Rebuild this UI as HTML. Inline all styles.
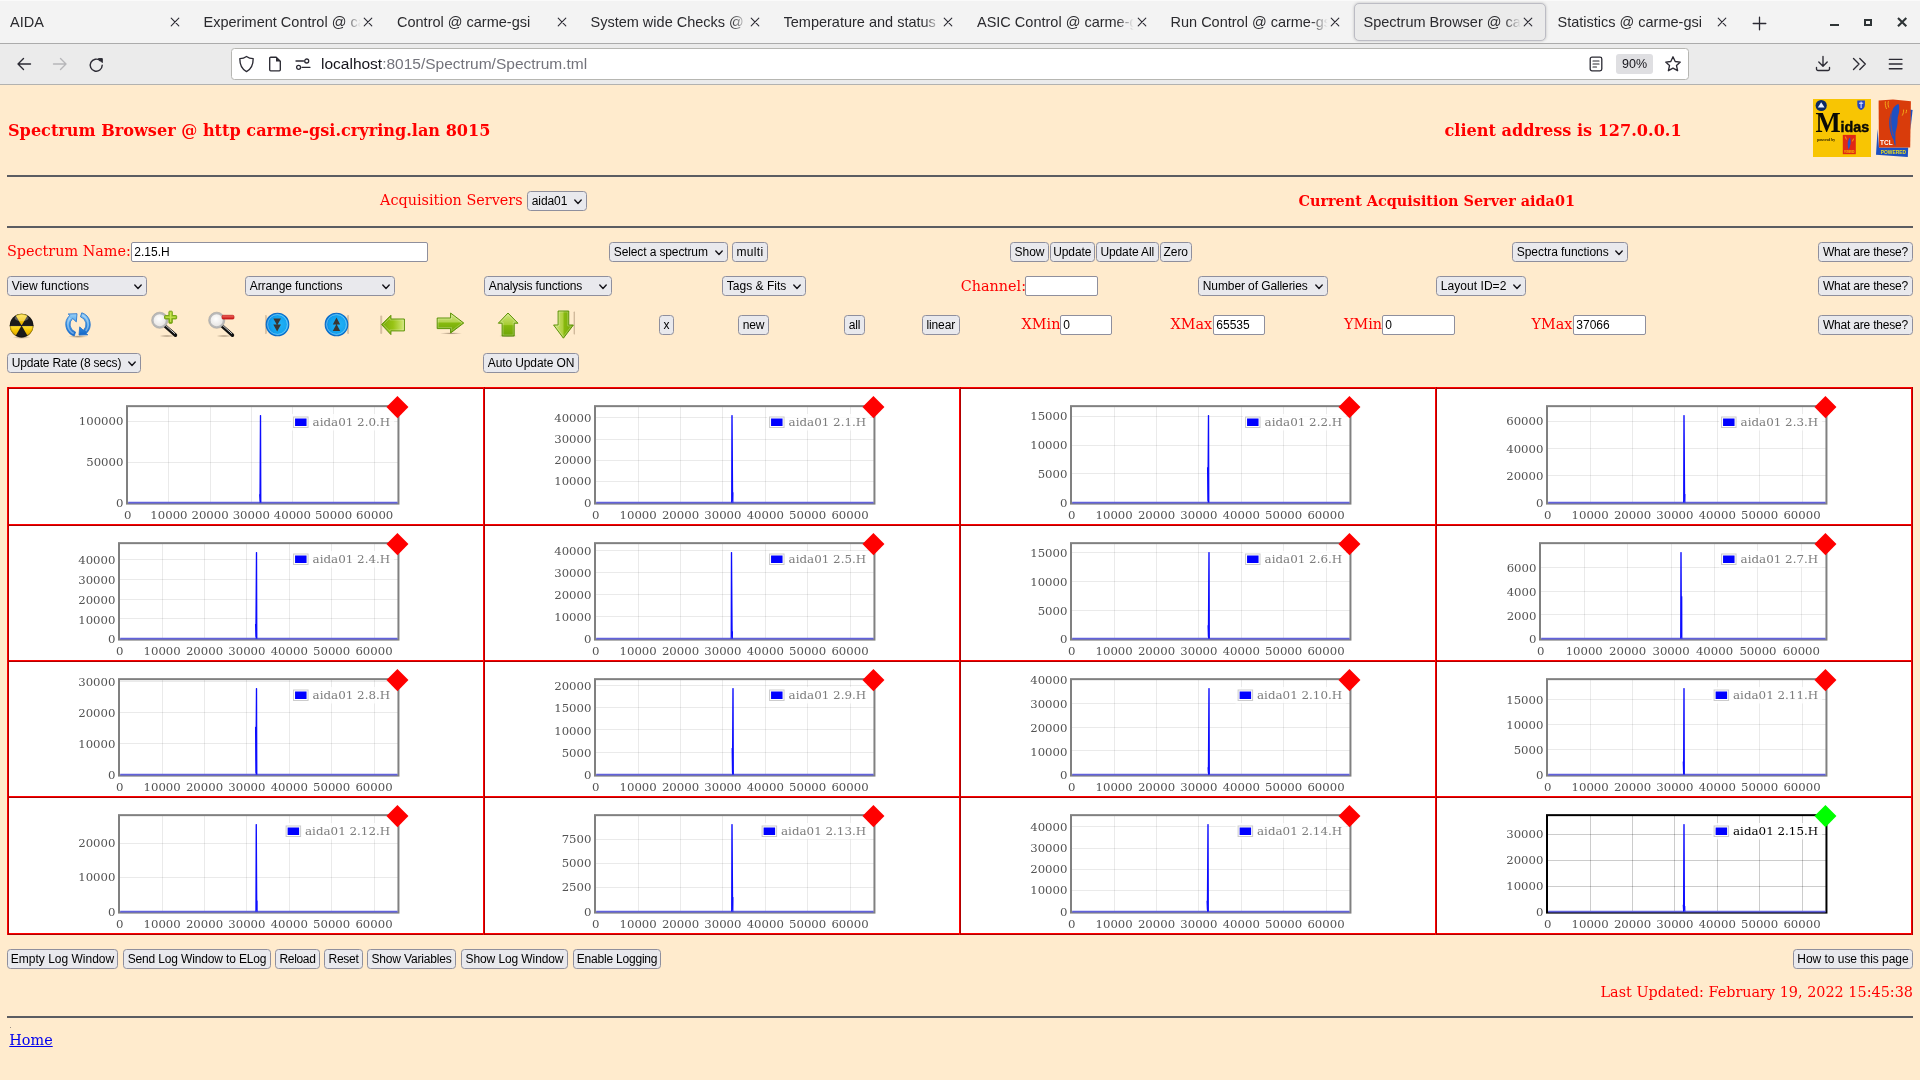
<!DOCTYPE html>
<html lang="en"><head><meta charset="utf-8"><title>Spectrum Browser @ carme-gsi</title>
<style>
*{box-sizing:border-box;margin:0;padding:0}
html,body{width:1920px;height:1080px;overflow:hidden;background:#ffebcd}
body{position:relative;font-family:"DejaVu Serif","Liberation Serif",serif;font-size:14.4px;color:#f00}
.a{position:absolute;white-space:nowrap}
.ui{font-family:"Liberation Sans","DejaVu Sans",sans-serif;color:#000}
#tabbar{left:0;top:0;width:1920px;height:43px;background:#f3f3f3;border-top:1px solid #fafafa}
#navbar{left:0;top:43px;width:1920px;height:42px;background:#ebebeb;border-top:1px solid #ababab;border-bottom:1px solid #b2b2b0}
.tab{top:.8px;height:43px;font-size:14.5px;line-height:43px;color:#2a2a2e;overflow:hidden}
.tabsel{left:1354px;top:3px;width:192px;height:38px;background:#ebebeb;border:1px solid #bcbcc4;border-radius:5px;box-shadow:0 0 3px rgba(0,0,0,.22)}
.fade{top:6px;width:26px;height:32px}
#url{left:231px;top:48px;width:1458px;height:32px;background:#fff;border:1px solid #b6b6b2;border-radius:3.5px}
.btn{height:19.5px;background:#e9e9ed;border:1px solid #8f8f9d;border-radius:3.5px;font-size:12px;letter-spacing:-.2px;line-height:17.5px;text-align:center;color:#000}
.sel{height:19.5px;background:#e9e9ed;border:1px solid #8f8f9d;border-radius:3.5px;font-size:12px;letter-spacing:-.2px;line-height:17.5px;padding-left:3.8px;color:#000}
.sel svg{position:absolute;right:4.5px;top:6.5px}
.inp{height:19.5px;background:#fff;border:1px solid #8f8f9d;border-radius:2px;font-size:12px;line-height:17.5px;padding-left:2.3px;color:#000}
.hr{left:7px;width:1906px;height:2px;background:#5b5c61}
.lbl{font-size:14.4px;line-height:18px;color:#f00}
.b{font-weight:700}
#w{position:absolute;left:0;top:0;width:1920px;height:1080px;will-change:transform}
</style></head>
<body>
<div id="w">
<div class="a" id="tabbar"></div><div class="a" id="navbar"></div>
<div class="a tabsel"></div>
<div class="a ui tab" style="left:10px;width:159px">AIDA</div>

<svg class="a" style="left:168.7px;top:15.5px" width="12" height="12" viewBox="0 0 12 12"><path d="M2.2 2.2 L9.8 9.8 M9.8 2.2 L2.2 9.8" stroke="#2b2a33" stroke-width="1.1" fill="none" stroke-linecap="round"/></svg>
<div class="a ui tab" style="left:203.5px;width:159px">Experiment Control @ carme-gsi</div>
<div class="a fade" style="left:343.5px;width:19px;background:linear-gradient(90deg,rgba(243,243,243,0),#f3f3f3 88%)"></div>
<svg class="a" style="left:362.2px;top:15.5px" width="12" height="12" viewBox="0 0 12 12"><path d="M2.2 2.2 L9.8 9.8 M9.8 2.2 L2.2 9.8" stroke="#2b2a33" stroke-width="1.1" fill="none" stroke-linecap="round"/></svg>
<div class="a ui tab" style="left:397px;width:159px">Control @ carme-gsi</div>

<svg class="a" style="left:555.7px;top:15.5px" width="12" height="12" viewBox="0 0 12 12"><path d="M2.2 2.2 L9.8 9.8 M9.8 2.2 L2.2 9.8" stroke="#2b2a33" stroke-width="1.1" fill="none" stroke-linecap="round"/></svg>
<div class="a ui tab" style="left:590.5px;width:159px">System wide Checks @ carme-gsi</div>
<div class="a fade" style="left:730.5px;width:19px;background:linear-gradient(90deg,rgba(243,243,243,0),#f3f3f3 88%)"></div>
<svg class="a" style="left:749.2px;top:15.5px" width="12" height="12" viewBox="0 0 12 12"><path d="M2.2 2.2 L9.8 9.8 M9.8 2.2 L2.2 9.8" stroke="#2b2a33" stroke-width="1.1" fill="none" stroke-linecap="round"/></svg>
<div class="a ui tab" style="left:783.5px;width:159px">Temperature and status scan @ carme-gsi</div>
<div class="a fade" style="left:923.5px;width:19px;background:linear-gradient(90deg,rgba(243,243,243,0),#f3f3f3 88%)"></div>
<svg class="a" style="left:942.2px;top:15.5px" width="12" height="12" viewBox="0 0 12 12"><path d="M2.2 2.2 L9.8 9.8 M9.8 2.2 L2.2 9.8" stroke="#2b2a33" stroke-width="1.1" fill="none" stroke-linecap="round"/></svg>
<div class="a ui tab" style="left:977px;width:159px">ASIC Control @ carme-gsi</div>
<div class="a fade" style="left:1117px;width:19px;background:linear-gradient(90deg,rgba(243,243,243,0),#f3f3f3 88%)"></div>
<svg class="a" style="left:1135.7px;top:15.5px" width="12" height="12" viewBox="0 0 12 12"><path d="M2.2 2.2 L9.8 9.8 M9.8 2.2 L2.2 9.8" stroke="#2b2a33" stroke-width="1.1" fill="none" stroke-linecap="round"/></svg>
<div class="a ui tab" style="left:1170.5px;width:159px">Run Control @ carme-gsi</div>
<div class="a fade" style="left:1310.5px;width:19px;background:linear-gradient(90deg,rgba(243,243,243,0),#f3f3f3 88%)"></div>
<svg class="a" style="left:1329.2px;top:15.5px" width="12" height="12" viewBox="0 0 12 12"><path d="M2.2 2.2 L9.8 9.8 M9.8 2.2 L2.2 9.8" stroke="#2b2a33" stroke-width="1.1" fill="none" stroke-linecap="round"/></svg>
<div class="a ui tab" style="left:1363.5px;width:159px">Spectrum Browser @ carme-gsi</div>
<div class="a fade" style="left:1503.5px;width:19px;background:linear-gradient(90deg,rgba(235,235,235,0),#ebebeb 88%)"></div>
<svg class="a" style="left:1522.2px;top:15.5px" width="12" height="12" viewBox="0 0 12 12"><path d="M2.2 2.2 L9.8 9.8 M9.8 2.2 L2.2 9.8" stroke="#2b2a33" stroke-width="1.1" fill="none" stroke-linecap="round"/></svg>
<div class="a ui tab" style="left:1557.5px;width:159px">Statistics @ carme-gsi</div>

<svg class="a" style="left:1716.2px;top:15.5px" width="12" height="12" viewBox="0 0 12 12"><path d="M2.2 2.2 L9.8 9.8 M9.8 2.2 L2.2 9.8" stroke="#2b2a33" stroke-width="1.1" fill="none" stroke-linecap="round"/></svg>
<svg class="a" style="left:1752px;top:16px" width="15" height="15" viewBox="0 0 15 15"><path d="M7.5 1.2 V13.8 M1.2 7.5 H13.8" stroke="#2b2a33" stroke-width="1.3" fill="none" stroke-linecap="round"/></svg>
<div class="a" style="left:1829.5px;top:24px;width:9px;height:2px;background:#2e3436"></div>
<div class="a" style="left:1864px;top:18.5px;width:8px;height:7px;border:2px solid #2e3436"></div>
<svg class="a" style="left:1896px;top:16px" width="12" height="12" viewBox="0 0 12 12"><path d="M2 2 L10.3 10.3 M10.3 2 L2 10.3" stroke="#2e3436" stroke-width="2.1" fill="none"/></svg>
<svg class="a" style="left:16px;top:56px" width="16" height="16" viewBox="0 0 16 16"><path d="M14.5 8 H2 M7.5 2.5 L2 8 L7.5 13.5" stroke="#2b2a33" stroke-width="1.4" fill="none" stroke-linecap="round" stroke-linejoin="round"/></svg>
<svg class="a" style="left:52px;top:56px" width="16" height="16" viewBox="0 0 16 16"><path d="M1.5 8 H14 M8.5 2.5 L14 8 L8.5 13.5" stroke="#b6b6b9" stroke-width="1.4" fill="none" stroke-linecap="round" stroke-linejoin="round"/></svg>
<svg class="a" style="left:88px;top:57px" width="17" height="16" viewBox="0 0 17 16"><path d="M14.2 8.3 A6 6 0 1 1 12.2 3.7" stroke="#2b2a33" stroke-width="1.4" fill="none" stroke-linecap="round"/><path d="M10.3 1.6 H14.3 V5.6 Z" fill="#2b2a33" stroke="#2b2a33" stroke-width="1" stroke-linejoin="round"/></svg>
<div class="a" id="url"></div>
<svg class="a" style="left:238px;top:55px" width="17" height="18" viewBox="0 0 17 18"><path d="M8.5 1.5 C6.5 3 4 3.6 1.8 3.6 C1.8 10 4 14.5 8.5 16.6 C13 14.5 15.2 10 15.2 3.6 C13 3.6 10.5 3 8.5 1.5 Z" stroke="#2b2a33" stroke-width="1.35" fill="none" stroke-linejoin="round"/></svg>
<svg class="a" style="left:268px;top:56px" width="14" height="16" viewBox="0 0 14 16"><path d="M1.7 2.2 a1 1 0 0 1 1 -1 H8.2 L12.3 5.3 V13.8 a1 1 0 0 1 -1 1 H2.7 a1 1 0 0 1 -1 -1 Z" stroke="#2b2a33" stroke-width="1.35" fill="none" stroke-linejoin="round"/><path d="M8 1.4 V5.5 H12.2 Z" fill="#2b2a33"/></svg>
<svg class="a" style="left:295px;top:57px" width="16" height="14" viewBox="0 0 16 14"><path d="M1 4 H8.5 M7 10.3 H15" stroke="#2b2a33" stroke-width="1.3" fill="none" stroke-linecap="round"/><circle cx="11.7" cy="4" r="2" stroke="#2b2a33" stroke-width="1.3" fill="none"/><circle cx="3.6" cy="10.3" r="2" stroke="#2b2a33" stroke-width="1.3" fill="none"/></svg>
<div class="a ui" style="left:321px;top:53.63px;font-size:15.5px;line-height:20px;color:#000;"><span style="color:#15141a">localhost</span><span style="color:#73737b">:8015/Spectrum/Spectrum.tml</span></div>
<svg class="a" style="left:1589px;top:56px" width="14" height="16" viewBox="0 0 14 16"><rect x="1.2" y="1.2" width="11.6" height="13.6" rx="1.8" stroke="#2b2a33" stroke-width="1.3" fill="none"/><path d="M4 5 H10 M4 8 H10 M4 11 H7.5" stroke="#2b2a33" stroke-width="1.2" fill="none" stroke-linecap="round"/></svg>
<div class="a ui" style="left:1616px;top:54px;width:37px;height:19.5px;background:#dfdfe2;border-radius:3px;font-size:12.5px;line-height:20.5px;text-align:center;color:#15141a">90%</div>
<svg class="a" style="left:1664px;top:55px" width="18" height="18" viewBox="0 0 18 18"><path d="M9 1.8 L11.2 6.5 L16.3 7.1 L12.5 10.6 L13.6 15.7 L9 13.1 L4.4 15.7 L5.5 10.6 L1.7 7.1 L6.8 6.5 Z" stroke="#2b2a33" stroke-width="1.35" fill="none" stroke-linejoin="round"/></svg>
<svg class="a" style="left:1815px;top:55px" width="16" height="17" viewBox="0 0 16 17"><path d="M8 1.5 V11 M3.8 7 L8 11.2 L12.2 7 M1.5 12.5 V14 a1.5 1.5 0 0 0 1.5 1.5 H13 a1.5 1.5 0 0 0 1.5 -1.5 V12.5" stroke="#2b2a33" stroke-width="1.35" fill="none" stroke-linecap="round" stroke-linejoin="round"/></svg>
<svg class="a" style="left:1852px;top:57px" width="15" height="14" viewBox="0 0 15 14"><path d="M1.5 1.5 L7 7 L1.5 12.5 M7.8 1.5 L13.3 7 L7.8 12.5" stroke="#2b2a33" stroke-width="1.35" fill="none" stroke-linecap="round" stroke-linejoin="round"/></svg>
<svg class="a" style="left:1888px;top:57px" width="15" height="14" viewBox="0 0 15 14"><path d="M1.3 2.3 H14 M1.3 7 H14 M1.3 11.7 H14" stroke="#2b2a33" stroke-width="1.35" fill="none" stroke-linecap="round"/></svg>
<div class="a" style="left:8px;top:121.34px;font-size:16.1px;line-height:20px;color:#f00;font-weight:700;">Spectrum Browser @ http carme-gsi.cryring.lan 8015</div>
<div class="a" style="left:1444.5px;top:121.34px;font-size:16.1px;line-height:20px;color:#f00;font-weight:700;">client address is 127.0.0.1</div>
<div class="a hr" style="top:175px"></div>
<div class="a" style="left:380px;top:189.94px;font-size:14.4px;line-height:20px;color:#f00;">Acquisition Servers</div>
<div class="a ui sel" style="left:527px;top:191px;width:60px;height:20px;line-height:18px;letter-spacing:-0.1px">aida01<svg width="8" height="6" viewBox="0 0 8 6"><path d="M0.8 1 L4 4.4 L7.2 1" fill="none" stroke="#15141a" stroke-width="1.4" stroke-linecap="round" stroke-linejoin="round"/></svg></div>
<div class="a" style="left:1298.5px;top:190.94px;font-size:14.4px;line-height:20px;color:#f00;font-weight:700;">Current Acquisition Server aida01</div>
<div class="a hr" style="top:226px"></div>
<div class="a" style="left:6.9px;top:240.94px;font-size:14.4px;line-height:20px;color:#f00;">Spectrum Name:</div>
<div class="a ui inp" style="left:131px;top:242px;width:297px;height:20px;line-height:18px">2.15.H</div>
<div class="a ui sel" style="left:609px;top:242px;width:119px;height:20px;line-height:18px;letter-spacing:-0.12px">Select a spectrum<svg width="8" height="6" viewBox="0 0 8 6"><path d="M0.8 1 L4 4.4 L7.2 1" fill="none" stroke="#15141a" stroke-width="1.4" stroke-linecap="round" stroke-linejoin="round"/></svg></div>
<div class="a ui btn" style="left:732px;top:242px;width:36px;height:20px;line-height:18px;letter-spacing:0.3px">multi</div>
<div class="a ui btn" style="left:1010px;top:242px;width:39px;height:20px;line-height:18px;letter-spacing:-0.05px">Show</div>
<div class="a ui btn" style="left:1049.5px;top:242px;width:45.5px;height:20px;line-height:18px;letter-spacing:-0.1px">Update</div>
<div class="a ui btn" style="left:1095.5px;top:242px;width:63.5px;height:20px;line-height:18px;letter-spacing:-0.1px">Update All</div>
<div class="a ui btn" style="left:1159.5px;top:242px;width:32.5px;height:20px;line-height:18px;letter-spacing:-0.1px">Zero</div>
<div class="a ui sel" style="left:1512px;top:242px;width:116px;height:20px;line-height:18px;letter-spacing:-0.05px">Spectra functions<svg width="8" height="6" viewBox="0 0 8 6"><path d="M0.8 1 L4 4.4 L7.2 1" fill="none" stroke="#15141a" stroke-width="1.4" stroke-linecap="round" stroke-linejoin="round"/></svg></div>
<div class="a ui btn" style="left:1818px;top:242px;width:95px;height:20px;line-height:18px;letter-spacing:-0.2px">What are these?</div>
<div class="a ui sel" style="left:7px;top:276px;width:140px;height:20px;line-height:18px;letter-spacing:0.01px">View functions<svg width="8" height="6" viewBox="0 0 8 6"><path d="M0.8 1 L4 4.4 L7.2 1" fill="none" stroke="#15141a" stroke-width="1.4" stroke-linecap="round" stroke-linejoin="round"/></svg></div>
<div class="a ui sel" style="left:245px;top:276px;width:150px;height:20px;line-height:18px;letter-spacing:-0.09px">Arrange functions<svg width="8" height="6" viewBox="0 0 8 6"><path d="M0.8 1 L4 4.4 L7.2 1" fill="none" stroke="#15141a" stroke-width="1.4" stroke-linecap="round" stroke-linejoin="round"/></svg></div>
<div class="a ui sel" style="left:484px;top:276px;width:128px;height:20px;line-height:18px;letter-spacing:-0.15px">Analysis functions<svg width="8" height="6" viewBox="0 0 8 6"><path d="M0.8 1 L4 4.4 L7.2 1" fill="none" stroke="#15141a" stroke-width="1.4" stroke-linecap="round" stroke-linejoin="round"/></svg></div>
<div class="a ui sel" style="left:722px;top:276px;width:84px;height:20px;line-height:18px;letter-spacing:0.02px">Tags &amp; Fits<svg width="8" height="6" viewBox="0 0 8 6"><path d="M0.8 1 L4 4.4 L7.2 1" fill="none" stroke="#15141a" stroke-width="1.4" stroke-linecap="round" stroke-linejoin="round"/></svg></div>
<div class="a" style="left:960.7px;top:275.54px;font-size:14.4px;line-height:20px;color:#f00;">Channel:</div>
<div class="a ui inp" style="left:1025px;top:276px;width:73px;height:20px;line-height:18px"></div>
<div class="a ui sel" style="left:1198px;top:276px;width:130px;height:20px;line-height:18px;letter-spacing:-0.1px">Number of Galleries<svg width="8" height="6" viewBox="0 0 8 6"><path d="M0.8 1 L4 4.4 L7.2 1" fill="none" stroke="#15141a" stroke-width="1.4" stroke-linecap="round" stroke-linejoin="round"/></svg></div>
<div class="a ui sel" style="left:1436px;top:276px;width:90px;height:20px;line-height:18px;letter-spacing:0.05px">Layout ID=2<svg width="8" height="6" viewBox="0 0 8 6"><path d="M0.8 1 L4 4.4 L7.2 1" fill="none" stroke="#15141a" stroke-width="1.4" stroke-linecap="round" stroke-linejoin="round"/></svg></div>
<div class="a ui btn" style="left:1818px;top:276px;width:95px;height:20px;line-height:18px;letter-spacing:-0.2px">What are these?</div>
<div class="a ui btn" style="left:659px;top:315px;width:15px;height:20px;line-height:18px;letter-spacing:-0.1px">x</div>
<div class="a ui btn" style="left:738px;top:315px;width:31px;height:20px;line-height:18px;letter-spacing:-0.1px">new</div>
<div class="a ui btn" style="left:844px;top:315px;width:21px;height:20px;line-height:18px;letter-spacing:-0.1px">all</div>
<div class="a ui btn" style="left:922px;top:315px;width:37.5px;height:20px;line-height:18px;letter-spacing:-0.1px">linear</div>
<div class="a" style="left:1021.6px;top:313.74px;font-size:14.4px;line-height:20px;color:#f00;">XMin</div>
<div class="a ui inp" style="left:1060px;top:315px;width:52px;height:20px;line-height:18px">0</div>
<div class="a" style="left:1170.5px;top:313.74px;font-size:14.4px;line-height:20px;color:#f00;">XMax</div>
<div class="a ui inp" style="left:1213px;top:315px;width:52px;height:20px;line-height:18px">65535</div>
<div class="a" style="left:1344px;top:313.74px;font-size:14.4px;line-height:20px;color:#f00;">YMin</div>
<div class="a ui inp" style="left:1382px;top:315px;width:73px;height:20px;line-height:18px">0</div>
<div class="a" style="left:1531.5px;top:313.74px;font-size:14.4px;line-height:20px;color:#f00;">YMax</div>
<div class="a ui inp" style="left:1573px;top:315px;width:73px;height:20px;line-height:18px">37066</div>
<div class="a ui btn" style="left:1818px;top:315px;width:95px;height:20px;line-height:18px;letter-spacing:-0.2px">What are these?</div>
<div class="a ui sel" style="left:7px;top:353px;width:134px;height:20px;line-height:18px;letter-spacing:-0.2px">Update Rate (8 secs)<svg width="8" height="6" viewBox="0 0 8 6"><path d="M0.8 1 L4 4.4 L7.2 1" fill="none" stroke="#15141a" stroke-width="1.4" stroke-linecap="round" stroke-linejoin="round"/></svg></div>
<div class="a ui btn" style="left:483px;top:353px;width:96px;height:20px;line-height:18px;letter-spacing:-0.11px">Auto Update ON</div>
<div class="a ui btn" style="left:7px;top:949px;width:111px;height:20px;line-height:18px;letter-spacing:0px">Empty Log Window</div>
<div class="a ui btn" style="left:123px;top:949px;width:148px;height:20px;line-height:18px;letter-spacing:-0.15px">Send Log Window to ELog</div>
<div class="a ui btn" style="left:275px;top:949px;width:45px;height:20px;line-height:18px;letter-spacing:-0.35px">Reload</div>
<div class="a ui btn" style="left:324px;top:949px;width:39px;height:20px;line-height:18px;letter-spacing:-0.3px">Reset</div>
<div class="a ui btn" style="left:367px;top:949px;width:89px;height:20px;line-height:18px;letter-spacing:-0.16px">Show Variables</div>
<div class="a ui btn" style="left:461px;top:949px;width:107px;height:20px;line-height:18px;letter-spacing:-0.1px">Show Log Window</div>
<div class="a ui btn" style="left:573px;top:949px;width:88px;height:20px;line-height:18px;letter-spacing:-0.2px">Enable Logging</div>
<div class="a ui btn" style="left:1793px;top:949px;width:120px;height:20px;line-height:18px;letter-spacing:-0.04px">How to use this page</div>
<div class="a" style="right:7px;top:981.94px;font-size:14.4px;line-height:20px;color:#f00;">Last Updated: February 19, 2022 15:45:38</div>
<div class="a hr" style="top:1016px"></div>
<div class="a" style="left:9.6px;top:1027px;width:1.4px;height:1px;background:#9a8f86"></div>
<div class="a" style="left:9.3px;top:1029.54px;font-size:14.4px;line-height:20px;color:#0000ee;"><span style="text-decoration:underline">Home</span></div>
<svg class="a" style="left:1813px;top:99px" width="58" height="58" viewBox="0 0 58 58"><rect width="58" height="58" fill="#f8c503"/><circle cx="8.2" cy="6.5" r="5.6" fill="#0b2a66"/><path d="M8.2 3.2 L11.6 8.6 H4.8 Z" fill="#e8f0ff"/><path d="M44.3 1.5 H51.9 V6 C51.9 9 49.5 10.4 48.1 11 C46.7 10.4 44.3 9 44.3 6 Z" fill="#2346c4"/><path d="M46 4.2 H50.2 M48.1 2.6 V9" stroke="#e8ecff" stroke-width="1"/><text x="2.6" y="32.6" font-family="'Liberation Serif','DejaVu Serif',serif" font-weight="700" font-size="29.5" fill="#0a0a06" textLength="25.2" lengthAdjust="spacingAndGlyphs">M</text><text x="27.6" y="32.6" font-family="'Liberation Sans','DejaVu Sans',sans-serif" font-weight="700" font-size="15" fill="#0a0a06" stroke="#0a0a06" stroke-width=".45" textLength="28.6" lengthAdjust="spacingAndGlyphs">idas</text><text x="4.2" y="42.2" font-family="'Liberation Serif',serif" font-weight="700" font-size="4.2" fill="#1a1400" textLength="17.8" lengthAdjust="spacingAndGlyphs">powered by</text><rect x="29.8" y="35.9" width="13" height="19.3" fill="#e02814"/><path d="M37 38.5 C34.5 41 34 46 35.6 50.5 C37.6 47 38.4 42 37 38.5 Z" fill="#2a54c8"/><path d="M32.4 37.6 L33.4 40.6 M40.6 39.6 L39.4 42.4" stroke="#f8c800" stroke-width=".8"/><text x="31.2" y="54" font-family="'Liberation Sans',sans-serif" font-weight="700" font-size="3" fill="#f8c800" textLength="10.2" lengthAdjust="spacingAndGlyphs">POWERED</text></svg>
<svg class="a" style="left:1876px;top:99px" width="37" height="59" viewBox="0 0 37 59"><path d="M1.6 30 L3 48.6 L32.2 48.6 L31.8 58 L0 55.8 Z" fill="#1c50c2"/><path d="M34 10.6 L36.6 11 L34.4 31 Z" fill="#1c50c2"/><path d="M2.6 1.4 L17 .6 L34.9 2.2 L34.2 48.4 L2.9 48.6 Z" fill="#d93c0b"/><path d="M22.4 5 C19 5.6 14.6 11.6 13.4 20 C12.6 27 14.2 35 17.6 41 C18 43 18.4 45 18.8 46.6 L19.6 46.4 C19.4 43 19.2 38 19.6 33 C21 28 22 24 21.6 19 C22.6 15 23.6 12 23.2 9 C23.4 7.4 23 6 22.4 5 Z" fill="#1f50c2"/><path d="M16.4 10 C14 17 14 27 17.4 37" stroke="#d93c0b" stroke-width=".7" fill="none" opacity=".8"/><path d="M9.4 2.4 C9 5 9.4 7.6 10.6 10 M12.4 2.2 C11.8 4.4 12 6.6 12.8 8.6 M27.6 10.6 C27.8 12.6 27.2 14.8 26.2 16.6 M30.6 10.8 C30.6 12 30.2 13.2 29.8 14.2" stroke="#f2a818" stroke-width="1" fill="none"/><text x="4" y="46" font-family="'Liberation Sans',sans-serif" font-weight="700" font-size="6.4" fill="#fff" textLength="12.6" lengthAdjust="spacingAndGlyphs">TCL</text><text x="4.8" y="54.6" font-family="'Liberation Sans',sans-serif" font-weight="700" font-size="5.8" fill="#eadc1e" textLength="25.2" lengthAdjust="spacingAndGlyphs">POWERED</text></svg>
<svg width="0" height="0" style="position:absolute"><defs>
<linearGradient id="gY" x1="0" y1="0" x2="0" y2="1"><stop offset="0" stop-color="#ffe23a"/><stop offset=".5" stop-color="#f5c400"/><stop offset="1" stop-color="#e0a800"/></linearGradient>
<radialGradient id="gB" cx=".62" cy=".5" r=".62"><stop offset="0" stop-color="#22b2f6"/><stop offset=".7" stop-color="#10a0ee"/><stop offset="1" stop-color="#0a7edc"/></radialGradient>
<linearGradient id="gR" x1="0" y1="0" x2="0" y2="1"><stop offset="0" stop-color="#9ad0f6"/><stop offset=".5" stop-color="#3a96e6"/><stop offset="1" stop-color="#1466c8"/></linearGradient>
<linearGradient id="gGh" x1="0" y1="0" x2="1" y2="0"><stop offset="0" stop-color="#78aa0a"/><stop offset=".5" stop-color="#98c414"/><stop offset="1" stop-color="#d4e878"/></linearGradient>
<linearGradient id="gGv" x1="0" y1="0" x2="0" y2="1"><stop offset="0" stop-color="#cfe47a"/><stop offset=".45" stop-color="#b4d450"/><stop offset=".5" stop-color="#86ba0e"/><stop offset="1" stop-color="#6ea408"/></linearGradient>
<linearGradient id="gGv2" x1="0" y1="0" x2="0" y2="1"><stop offset="0" stop-color="#d2e680"/><stop offset=".5" stop-color="#a6cc34"/><stop offset=".55" stop-color="#84b80c"/><stop offset="1" stop-color="#6ea408"/></linearGradient>
<linearGradient id="gGd" x1="0" y1="0" x2="1" y2="0"><stop offset="0" stop-color="#d0e47c"/><stop offset=".45" stop-color="#b0d040"/><stop offset=".55" stop-color="#86b80e"/><stop offset="1" stop-color="#74a808"/></linearGradient>
<linearGradient id="gR2" x1="0" y1="1" x2="0" y2="0"><stop offset="0" stop-color="#8cc8f4"/><stop offset=".5" stop-color="#3a96e4"/><stop offset="1" stop-color="#1466c8"/></linearGradient>
<radialGradient id="gL" cx=".45" cy=".4" r=".6"><stop offset="0" stop-color="#ffffff"/><stop offset="1" stop-color="#e4e2e0"/></radialGradient>
<linearGradient id="gP" x1="0" y1="0" x2="0" y2="1"><stop offset="0" stop-color="#b8dc3c"/><stop offset="1" stop-color="#7cac10"/></linearGradient>
<linearGradient id="gM" x1="0" y1="0" x2="0" y2="1"><stop offset="0" stop-color="#f06a60"/><stop offset="1" stop-color="#c81414"/></linearGradient>
<radialGradient id="gSh" cx=".5" cy=".5" r=".5"><stop offset="0" stop-color="rgba(60,40,20,.45)"/><stop offset="1" stop-color="rgba(60,40,20,0)"/></radialGradient>
</defs></svg>
<svg class="a" style="left:9px;top:312.5px" width="26" height="26" viewBox="0 0 26 26"><ellipse cx="12.6" cy="24.3" rx="9" ry="1.6" fill="url(#gSh)"/><circle cx="12.6" cy="12.6" r="11.8" fill="#1a1a1a"/><path d="M12.6 12.6 L18.50 2.38 A11.8 11.8 0 0 0 6.70 2.38 Z" fill="url(#gY)"/><path d="M12.6 12.6 L0.80 12.60 A11.8 11.8 0 0 0 6.70 22.82 Z" fill="url(#gY)"/><path d="M12.6 12.6 L18.50 22.82 A11.8 11.8 0 0 0 24.40 12.60 Z" fill="url(#gY)"/><path d="M0.7999999999999989 12.6 H24.4" stroke="#14142a" stroke-width="1"/><circle cx="12.6" cy="12.6" r="11.4" fill="none" stroke="rgba(0,0,0,.35)" stroke-width=".8"/><ellipse cx="12.6" cy="5" rx="7" ry="3.2" fill="rgba(255,255,255,.28)"/></svg>
<svg class="a" style="left:65.25px;top:312.2px" width="26" height="26" viewBox="0 0 26 26"><ellipse cx="13" cy="24.6" rx="10" ry="1.4" fill="url(#gSh)"/><path d="M9.23 24.00 A12.2 12.2 0 0 1 4.84 3.33 L3.2 2.0 L12.0 1.7 L11.3 9.9 L7.65 6.45 A8.0 8.0 0 0 0 10.53 20.01 Z" fill="url(#gR)" stroke="#1a6ccc" stroke-width=".8" stroke-linejoin="round"/><path d="M8.73 21.55 A10.1 10.1 0 0 1 5.26 5.91" fill="none" stroke="rgba(255,255,255,.38)" stroke-width="1.7"/><g transform="rotate(180 13 12.4)"><path d="M9.23 24.00 A12.2 12.2 0 0 1 4.84 3.33 L3.2 2.0 L12.0 1.7 L11.3 9.9 L7.65 6.45 A8.0 8.0 0 0 0 10.53 20.01 Z" fill="url(#gR2)" stroke="#1a6ccc" stroke-width=".8" stroke-linejoin="round"/><path d="M8.73 21.55 A10.1 10.1 0 0 1 5.26 5.91" fill="none" stroke="rgba(255,255,255,.38)" stroke-width="1.7"/></g></svg>
<svg class="a" style="left:150px;top:310px" width="36" height="28" viewBox="0 0 36 28"><ellipse cx="17" cy="26" rx="8" ry="1.3" fill="url(#gSh)"/><path d="M15 16 L25.4 25.2" stroke="#111" stroke-width="3.6" stroke-linecap="round"/><path d="M15.6 15.4 L24.6 23.4" stroke="#fff" stroke-width="1" stroke-linecap="round" opacity=".85"/><circle cx="9.7" cy="10.25" r="7.1" fill="url(#gL)" stroke="#b9b9b9" stroke-width="2"/><circle cx="9.7" cy="10.25" r="8.1" fill="none" stroke="#9a9a9a" stroke-width=".5"/><path d="M18.9 1.9 a.7 .7 0 0 1 .7 -.7 h2 a.7 .7 0 0 1 .7 .7 v3.65 h3.65 a.7 .7 0 0 1 .7 .7 v2 a.7 .7 0 0 1 -.7 .7 h-3.65 v3.65 a.7 .7 0 0 1 -.7 .7 h-2 a.7 .7 0 0 1 -.7 -.7 v-3.65 h-3.65 a.7 .7 0 0 1 -.7 -.7 v-2 a.7 .7 0 0 1 .7 -.7 h3.65 Z" fill="url(#gP)" stroke="#6a9a0a" stroke-width=".9"/><path d="M20 2.4 h1.2 v4.25 h4.25 v1.2 h-4.25 v4.25 h-1.2 v-4.25 h-4.25 v-1.2 h4.25 Z" fill="#d2e860" opacity=".8"/></svg>
<svg class="a" style="left:206.9px;top:310px" width="36" height="28" viewBox="0 0 36 28"><ellipse cx="17" cy="26" rx="8" ry="1.3" fill="url(#gSh)"/><path d="M15 16 L25.4 25.2" stroke="#111" stroke-width="3.6" stroke-linecap="round"/><path d="M15.6 15.4 L24.6 23.4" stroke="#fff" stroke-width="1" stroke-linecap="round" opacity=".85"/><circle cx="9.7" cy="10.25" r="7.1" fill="url(#gL)" stroke="#b9b9b9" stroke-width="2"/><circle cx="9.7" cy="10.25" r="8.1" fill="none" stroke="#9a9a9a" stroke-width=".5"/><rect x="15" y="5.3" width="12" height="3.8" rx="1.2" fill="url(#gM)" stroke="#c01818" stroke-width=".7"/></svg>
<svg class="a" style="left:265.2px;top:312px" width="25" height="25" viewBox="0 0 25 25"><rect x="-.4" y="3" width="2.4" height="19" fill="rgba(90,60,30,.22)" rx="1.2"/><circle cx="12.5" cy="12.5" r="11.3" fill="url(#gB)" stroke="#0a6ac6" stroke-width="1.1"/><circle cx="12.5" cy="12.5" r="9.9" fill="none" stroke="rgba(255,255,255,.4)" stroke-width=".9"/><path d="M8.3 6.4 H16 L12.15 13.2 Z M8.3 12.6 H16 L12.15 19.6 Z" fill="#3a3633"/></svg>
<svg class="a" style="left:324.1px;top:312px" width="25" height="25" viewBox="0 0 25 25"><rect x="23" y="3" width="2.4" height="19" fill="rgba(90,60,30,.22)" rx="1.2"/><circle cx="12.5" cy="12.5" r="11.3" fill="url(#gB)" stroke="#0a6ac6" stroke-width="1.1"/><circle cx="12.5" cy="12.5" r="9.9" fill="none" stroke="rgba(255,255,255,.4)" stroke-width=".9"/><path d="M12.5 5.6 L16.2 12.4 H8.8 Z M12.5 12 L16.2 19 H8.8 Z" fill="#3a3633"/></svg>
<svg class="a" style="left:380px;top:314px" width="26" height="22" viewBox="0 0 26 22"><rect x=".2" y="1.5" width="2" height="18.5" fill="rgba(90,60,30,.25)" rx="1"/><path d="M1.6 10.6 L10.9 1.3 V5 H24.4 V16.9 H10.9 V20.6 Z" fill="url(#gGh)" stroke="#5c9208" stroke-width="1" stroke-linejoin="round"/><path d="M3.4 10.6 L9.9 4 V6 H23.3 V15.9 H9.9 V17.4 Z" fill="none" stroke="rgba(255,255,255,.3)" stroke-width=".8"/></svg>
<svg class="a" style="left:436px;top:312.4px" width="30" height="24" viewBox="0 0 30 24"><ellipse cx="15" cy="21.4" rx="11" ry="1.2" fill="url(#gSh)"/><path d="M1.2 6 H14.6 V1 L27.75 11 L14.6 21 V16.6 H1.2 Z" fill="url(#gGv)" stroke="#5c9208" stroke-width="1" stroke-linejoin="round"/><path d="M2.2 7 H15.6 V3.2 L26 11 L15.6 18.8 V15.6 H2.2 Z" fill="none" stroke="rgba(255,255,255,.3)" stroke-width=".8"/></svg>
<svg class="a" style="left:496.8px;top:311.8px" width="23" height="26" viewBox="0 0 23 26"><ellipse cx="11" cy="24" rx="9.5" ry="1.3" fill="url(#gSh)"/><path d="M11 1 L21 11.2 H17.2 V24 H5.1 V11.2 H1.3 Z" fill="url(#gGv2)" stroke="#5c9208" stroke-width="1" stroke-linejoin="round"/><path d="M11 2.6 L18.6 10.2 H16.2 V23 H6.1 V10.2 H3.7 Z" fill="none" stroke="rgba(255,255,255,.3)" stroke-width=".8"/></svg>
<svg class="a" style="left:553px;top:310.3px" width="22" height="30" viewBox="0 0 22 30"><rect x="20.6" y="1.5" width="1.6" height="23" fill="rgba(90,60,30,.28)" rx=".8"/><path d="M5.1 1 H15.75 V15 H20.4 L10.4 28.2 L.6 15 H5.1 Z" fill="url(#gGd)" stroke="#5c9208" stroke-width="1" stroke-linejoin="round"/><path d="M6.1 2 H14.75 V16 H18.4 L10.4 26.5 L2.6 16 H6.1 Z" fill="none" stroke="rgba(255,255,255,.3)" stroke-width=".8"/></svg>
<div class="a" style="left:7px;top:387px;width:1906px;height:548px;background:#fff"></div>
<div class="a" style="left:7px;top:387px;width:1906px;height:1px;background:#ff0000"></div>
<div class="a" style="left:7px;top:388px;width:1906px;height:1px;background:#b00000"></div>
<div class="a" style="left:7px;top:524px;width:1906px;height:1px;background:#ff0000"></div>
<div class="a" style="left:7px;top:525px;width:1906px;height:1px;background:#b00000"></div>
<div class="a" style="left:7px;top:660px;width:1906px;height:1px;background:#ff0000"></div>
<div class="a" style="left:7px;top:661px;width:1906px;height:1px;background:#b00000"></div>
<div class="a" style="left:7px;top:796px;width:1906px;height:1px;background:#ff0000"></div>
<div class="a" style="left:7px;top:797px;width:1906px;height:1px;background:#b00000"></div>
<div class="a" style="left:7px;top:933px;width:1906px;height:1px;background:#ff0000"></div>
<div class="a" style="left:7px;top:934px;width:1906px;height:1px;background:#b00000"></div>
<div class="a" style="left:7px;top:387px;width:1px;height:548px;background:#ff0000"></div>
<div class="a" style="left:8px;top:387px;width:1px;height:548px;background:#b00000"></div>
<div class="a" style="left:483px;top:387px;width:1px;height:548px;background:#ff0000"></div>
<div class="a" style="left:484px;top:387px;width:1px;height:548px;background:#b00000"></div>
<div class="a" style="left:959px;top:387px;width:1px;height:548px;background:#ff0000"></div>
<div class="a" style="left:960px;top:387px;width:1px;height:548px;background:#b00000"></div>
<div class="a" style="left:1435px;top:387px;width:1px;height:548px;background:#ff0000"></div>
<div class="a" style="left:1436px;top:387px;width:1px;height:548px;background:#b00000"></div>
<div class="a" style="left:1911px;top:387px;width:1px;height:548px;background:#ff0000"></div>
<div class="a" style="left:1912px;top:387px;width:1px;height:548px;background:#b00000"></div>
<svg class="a" style="left:7px;top:387px" width="476" height="137" viewBox="0 0 476 137"><path d="M161.5 19.15 V116.6 M203.5 19.15 V116.6 M244.5 19.15 V116.6 M285.5 19.15 V116.6 M326.5 19.15 V116.6 M367.5 19.15 V116.6" stroke="#545454" stroke-opacity=".125" stroke-width="1" fill="none"/><path d="M120 75.5 H391.45 M120 34.5 H391.45" stroke="#545454" stroke-opacity=".125" stroke-width="1" fill="none"/><rect x="120" y="19.15" width="271.45" height="97.44999999999999" fill="none" stroke="#808080" stroke-width="2"/><path d="M121.20 115.6 H390.55" stroke="#6262dc" stroke-width="1.9" fill="none"/><path d="M253.10 115.60 L252.60 107.44 L252.90 113.60 L253.35 28.40 L253.65 28.40 L253.90 115.60" stroke="#0c0cff" stroke-width="1.05" fill="rgba(40,40,255,.4)" stroke-linejoin="round"/><text x="116.4" y="119.70" text-anchor="end" font-family="'DejaVu Serif','Liberation Serif',serif" font-size="11.7" fill="#545454">0</text><text x="116.4" y="79.05" text-anchor="end" font-family="'DejaVu Serif','Liberation Serif',serif" font-size="11.7" fill="#545454">50000</text><text x="116.4" y="38.40" text-anchor="end" font-family="'DejaVu Serif','Liberation Serif',serif" font-size="11.7" fill="#545454">100000</text><text x="120.80" y="132.1" text-anchor="middle" font-family="'DejaVu Serif','Liberation Serif',serif" font-size="11.7" fill="#545454">0</text><text x="161.95" y="132.1" text-anchor="middle" font-family="'DejaVu Serif','Liberation Serif',serif" font-size="11.7" fill="#545454">10000</text><text x="203.09" y="132.1" text-anchor="middle" font-family="'DejaVu Serif','Liberation Serif',serif" font-size="11.7" fill="#545454">20000</text><text x="244.24" y="132.1" text-anchor="middle" font-family="'DejaVu Serif','Liberation Serif',serif" font-size="11.7" fill="#545454">30000</text><text x="285.38" y="132.1" text-anchor="middle" font-family="'DejaVu Serif','Liberation Serif',serif" font-size="11.7" fill="#545454">40000</text><text x="326.53" y="132.1" text-anchor="middle" font-family="'DejaVu Serif','Liberation Serif',serif" font-size="11.7" fill="#545454">50000</text><text x="367.68" y="132.1" text-anchor="middle" font-family="'DejaVu Serif','Liberation Serif',serif" font-size="11.7" fill="#545454">60000</text><rect x="284.05" y="27" width="103.10" height="16.5" fill="#fff" opacity=".8"/><rect x="286.55" y="30" width="14.5" height="10.5" fill="#fff" stroke="#ccc" stroke-width="1"/><rect x="288.05" y="31.5" width="11.5" height="7.5" fill="#0000ff"/><text x="383.15" y="38.8" text-anchor="end" font-family="'DejaVu Serif','Liberation Serif',serif" font-size="11.9" fill="#7c7c7c">aida01 2.0.H</text><path d="M390.45 8.900000000000002 L401.45 20.1 L390.45 31.3 L379.45 20.1 Z" fill="#ff0000"/></svg>
<svg class="a" style="left:483px;top:387px" width="476" height="137" viewBox="0 0 476 137"><path d="M155.5 19.15 V116.6 M197.5 19.15 V116.6 M239.5 19.15 V116.6 M282.5 19.15 V116.6 M324.5 19.15 V116.6 M367.5 19.15 V116.6" stroke="#545454" stroke-opacity=".125" stroke-width="1" fill="none"/><path d="M112 94.5 H391.45 M112 73.5 H391.45 M112 52.5 H391.45 M112 30.5 H391.45" stroke="#545454" stroke-opacity=".125" stroke-width="1" fill="none"/><rect x="112" y="19.15" width="279.45" height="97.44999999999999" fill="none" stroke="#808080" stroke-width="2"/><path d="M113.20 115.6 H390.55" stroke="#6262dc" stroke-width="1.9" fill="none"/><path d="M248.60 115.60 L248.85 28.40 L249.15 28.40 L249.70 113.60 L250.00 105.49 L249.90 115.60" stroke="#0c0cff" stroke-width="1.05" fill="rgba(40,40,255,.4)" stroke-linejoin="round"/><text x="108.4" y="119.70" text-anchor="end" font-family="'DejaVu Serif','Liberation Serif',serif" font-size="11.7" fill="#545454">0</text><text x="108.4" y="98.45" text-anchor="end" font-family="'DejaVu Serif','Liberation Serif',serif" font-size="11.7" fill="#545454">10000</text><text x="108.4" y="77.20" text-anchor="end" font-family="'DejaVu Serif','Liberation Serif',serif" font-size="11.7" fill="#545454">20000</text><text x="108.4" y="55.95" text-anchor="end" font-family="'DejaVu Serif','Liberation Serif',serif" font-size="11.7" fill="#545454">30000</text><text x="108.4" y="34.70" text-anchor="end" font-family="'DejaVu Serif','Liberation Serif',serif" font-size="11.7" fill="#545454">40000</text><text x="112.80" y="132.1" text-anchor="middle" font-family="'DejaVu Serif','Liberation Serif',serif" font-size="11.7" fill="#545454">0</text><text x="155.17" y="132.1" text-anchor="middle" font-family="'DejaVu Serif','Liberation Serif',serif" font-size="11.7" fill="#545454">10000</text><text x="197.53" y="132.1" text-anchor="middle" font-family="'DejaVu Serif','Liberation Serif',serif" font-size="11.7" fill="#545454">20000</text><text x="239.90" y="132.1" text-anchor="middle" font-family="'DejaVu Serif','Liberation Serif',serif" font-size="11.7" fill="#545454">30000</text><text x="282.27" y="132.1" text-anchor="middle" font-family="'DejaVu Serif','Liberation Serif',serif" font-size="11.7" fill="#545454">40000</text><text x="324.63" y="132.1" text-anchor="middle" font-family="'DejaVu Serif','Liberation Serif',serif" font-size="11.7" fill="#545454">50000</text><text x="367.00" y="132.1" text-anchor="middle" font-family="'DejaVu Serif','Liberation Serif',serif" font-size="11.7" fill="#545454">60000</text><rect x="284.05" y="27" width="103.10" height="16.5" fill="#fff" opacity=".8"/><rect x="286.55" y="30" width="14.5" height="10.5" fill="#fff" stroke="#ccc" stroke-width="1"/><rect x="288.05" y="31.5" width="11.5" height="7.5" fill="#0000ff"/><text x="383.15" y="38.8" text-anchor="end" font-family="'DejaVu Serif','Liberation Serif',serif" font-size="11.9" fill="#7c7c7c">aida01 2.1.H</text><path d="M390.45 8.900000000000002 L401.45 20.1 L390.45 31.3 L379.45 20.1 Z" fill="#ff0000"/></svg>
<svg class="a" style="left:959px;top:387px" width="476" height="137" viewBox="0 0 476 137"><path d="M155.5 19.15 V116.6 M197.5 19.15 V116.6 M239.5 19.15 V116.6 M282.5 19.15 V116.6 M324.5 19.15 V116.6 M367.5 19.15 V116.6" stroke="#545454" stroke-opacity=".125" stroke-width="1" fill="none"/><path d="M112 86.5 H391.45 M112 58.5 H391.45 M112 29.5 H391.45" stroke="#545454" stroke-opacity=".125" stroke-width="1" fill="none"/><rect x="112" y="19.15" width="279.45" height="97.44999999999999" fill="none" stroke="#808080" stroke-width="2"/><path d="M113.20 115.6 H390.55" stroke="#6262dc" stroke-width="1.9" fill="none"/><path d="M249.10 115.60 L248.50 80.58 L248.80 113.60 L249.35 28.40 L249.65 28.40 L249.90 115.60" stroke="#0c0cff" stroke-width="1.05" fill="rgba(40,40,255,.4)" stroke-linejoin="round"/><text x="108.4" y="119.70" text-anchor="end" font-family="'DejaVu Serif','Liberation Serif',serif" font-size="11.7" fill="#545454">0</text><text x="108.4" y="90.75" text-anchor="end" font-family="'DejaVu Serif','Liberation Serif',serif" font-size="11.7" fill="#545454">5000</text><text x="108.4" y="61.80" text-anchor="end" font-family="'DejaVu Serif','Liberation Serif',serif" font-size="11.7" fill="#545454">10000</text><text x="108.4" y="32.85" text-anchor="end" font-family="'DejaVu Serif','Liberation Serif',serif" font-size="11.7" fill="#545454">15000</text><text x="112.80" y="132.1" text-anchor="middle" font-family="'DejaVu Serif','Liberation Serif',serif" font-size="11.7" fill="#545454">0</text><text x="155.17" y="132.1" text-anchor="middle" font-family="'DejaVu Serif','Liberation Serif',serif" font-size="11.7" fill="#545454">10000</text><text x="197.53" y="132.1" text-anchor="middle" font-family="'DejaVu Serif','Liberation Serif',serif" font-size="11.7" fill="#545454">20000</text><text x="239.90" y="132.1" text-anchor="middle" font-family="'DejaVu Serif','Liberation Serif',serif" font-size="11.7" fill="#545454">30000</text><text x="282.27" y="132.1" text-anchor="middle" font-family="'DejaVu Serif','Liberation Serif',serif" font-size="11.7" fill="#545454">40000</text><text x="324.63" y="132.1" text-anchor="middle" font-family="'DejaVu Serif','Liberation Serif',serif" font-size="11.7" fill="#545454">50000</text><text x="367.00" y="132.1" text-anchor="middle" font-family="'DejaVu Serif','Liberation Serif',serif" font-size="11.7" fill="#545454">60000</text><rect x="284.05" y="27" width="103.10" height="16.5" fill="#fff" opacity=".8"/><rect x="286.55" y="30" width="14.5" height="10.5" fill="#fff" stroke="#ccc" stroke-width="1"/><rect x="288.05" y="31.5" width="11.5" height="7.5" fill="#0000ff"/><text x="383.15" y="38.8" text-anchor="end" font-family="'DejaVu Serif','Liberation Serif',serif" font-size="11.9" fill="#7c7c7c">aida01 2.2.H</text><path d="M390.45 8.900000000000002 L401.45 20.1 L390.45 31.3 L379.45 20.1 Z" fill="#ff0000"/></svg>
<svg class="a" style="left:1435px;top:387px" width="476" height="137" viewBox="0 0 476 137"><path d="M155.5 19.15 V116.6 M197.5 19.15 V116.6 M239.5 19.15 V116.6 M282.5 19.15 V116.6 M324.5 19.15 V116.6 M367.5 19.15 V116.6" stroke="#545454" stroke-opacity=".125" stroke-width="1" fill="none"/><path d="M112 88.5 H391.45 M112 61.5 H391.45 M112 34.5 H391.45" stroke="#545454" stroke-opacity=".125" stroke-width="1" fill="none"/><rect x="112" y="19.15" width="279.45" height="97.44999999999999" fill="none" stroke="#808080" stroke-width="2"/><path d="M113.20 115.6 H390.55" stroke="#6262dc" stroke-width="1.9" fill="none"/><path d="M248.60 115.60 L248.85 28.40 L249.15 28.40 L249.70 113.60 L250.00 107.36 L249.90 115.60" stroke="#0c0cff" stroke-width="1.05" fill="rgba(40,40,255,.4)" stroke-linejoin="round"/><text x="108.4" y="119.70" text-anchor="end" font-family="'DejaVu Serif','Liberation Serif',serif" font-size="11.7" fill="#545454">0</text><text x="108.4" y="92.60" text-anchor="end" font-family="'DejaVu Serif','Liberation Serif',serif" font-size="11.7" fill="#545454">20000</text><text x="108.4" y="65.50" text-anchor="end" font-family="'DejaVu Serif','Liberation Serif',serif" font-size="11.7" fill="#545454">40000</text><text x="108.4" y="38.40" text-anchor="end" font-family="'DejaVu Serif','Liberation Serif',serif" font-size="11.7" fill="#545454">60000</text><text x="112.80" y="132.1" text-anchor="middle" font-family="'DejaVu Serif','Liberation Serif',serif" font-size="11.7" fill="#545454">0</text><text x="155.17" y="132.1" text-anchor="middle" font-family="'DejaVu Serif','Liberation Serif',serif" font-size="11.7" fill="#545454">10000</text><text x="197.53" y="132.1" text-anchor="middle" font-family="'DejaVu Serif','Liberation Serif',serif" font-size="11.7" fill="#545454">20000</text><text x="239.90" y="132.1" text-anchor="middle" font-family="'DejaVu Serif','Liberation Serif',serif" font-size="11.7" fill="#545454">30000</text><text x="282.27" y="132.1" text-anchor="middle" font-family="'DejaVu Serif','Liberation Serif',serif" font-size="11.7" fill="#545454">40000</text><text x="324.63" y="132.1" text-anchor="middle" font-family="'DejaVu Serif','Liberation Serif',serif" font-size="11.7" fill="#545454">50000</text><text x="367.00" y="132.1" text-anchor="middle" font-family="'DejaVu Serif','Liberation Serif',serif" font-size="11.7" fill="#545454">60000</text><rect x="284.05" y="27" width="103.10" height="16.5" fill="#fff" opacity=".8"/><rect x="286.55" y="30" width="14.5" height="10.5" fill="#fff" stroke="#ccc" stroke-width="1"/><rect x="288.05" y="31.5" width="11.5" height="7.5" fill="#0000ff"/><text x="383.15" y="38.8" text-anchor="end" font-family="'DejaVu Serif','Liberation Serif',serif" font-size="11.9" fill="#7c7c7c">aida01 2.3.H</text><path d="M390.45 8.900000000000002 L401.45 20.1 L390.45 31.3 L379.45 20.1 Z" fill="#ff0000"/></svg>
<svg class="a" style="left:7px;top:524px" width="476" height="137" viewBox="0 0 476 137"><path d="M155.5 19.15 V115.6 M197.5 19.15 V115.6 M239.5 19.15 V115.6 M282.5 19.15 V115.6 M324.5 19.15 V115.6 M367.5 19.15 V115.6" stroke="#545454" stroke-opacity=".125" stroke-width="1" fill="none"/><path d="M112 94.5 H391.45 M112 75.5 H391.45 M112 55.5 H391.45 M112 35.5 H391.45" stroke="#545454" stroke-opacity=".125" stroke-width="1" fill="none"/><rect x="112" y="19.15" width="279.45" height="96.44999999999999" fill="none" stroke="#808080" stroke-width="2"/><path d="M113.20 114.6 H390.55" stroke="#6262dc" stroke-width="1.9" fill="none"/><path d="M249.10 114.60 L248.50 100.17 L248.80 112.60 L249.35 28.40 L249.65 28.40 L249.90 114.60" stroke="#0c0cff" stroke-width="1.05" fill="rgba(40,40,255,.4)" stroke-linejoin="round"/><text x="108.4" y="119.30" text-anchor="end" font-family="'DejaVu Serif','Liberation Serif',serif" font-size="11.7" fill="#545454">0</text><text x="108.4" y="99.50" text-anchor="end" font-family="'DejaVu Serif','Liberation Serif',serif" font-size="11.7" fill="#545454">10000</text><text x="108.4" y="79.70" text-anchor="end" font-family="'DejaVu Serif','Liberation Serif',serif" font-size="11.7" fill="#545454">20000</text><text x="108.4" y="59.90" text-anchor="end" font-family="'DejaVu Serif','Liberation Serif',serif" font-size="11.7" fill="#545454">30000</text><text x="108.4" y="40.10" text-anchor="end" font-family="'DejaVu Serif','Liberation Serif',serif" font-size="11.7" fill="#545454">40000</text><text x="112.80" y="131.1" text-anchor="middle" font-family="'DejaVu Serif','Liberation Serif',serif" font-size="11.7" fill="#545454">0</text><text x="155.17" y="131.1" text-anchor="middle" font-family="'DejaVu Serif','Liberation Serif',serif" font-size="11.7" fill="#545454">10000</text><text x="197.53" y="131.1" text-anchor="middle" font-family="'DejaVu Serif','Liberation Serif',serif" font-size="11.7" fill="#545454">20000</text><text x="239.90" y="131.1" text-anchor="middle" font-family="'DejaVu Serif','Liberation Serif',serif" font-size="11.7" fill="#545454">30000</text><text x="282.27" y="131.1" text-anchor="middle" font-family="'DejaVu Serif','Liberation Serif',serif" font-size="11.7" fill="#545454">40000</text><text x="324.63" y="131.1" text-anchor="middle" font-family="'DejaVu Serif','Liberation Serif',serif" font-size="11.7" fill="#545454">50000</text><text x="367.00" y="131.1" text-anchor="middle" font-family="'DejaVu Serif','Liberation Serif',serif" font-size="11.7" fill="#545454">60000</text><rect x="284.05" y="27" width="103.10" height="16.5" fill="#fff" opacity=".8"/><rect x="286.55" y="30" width="14.5" height="10.5" fill="#fff" stroke="#ccc" stroke-width="1"/><rect x="288.05" y="31.5" width="11.5" height="7.5" fill="#0000ff"/><text x="383.15" y="38.8" text-anchor="end" font-family="'DejaVu Serif','Liberation Serif',serif" font-size="11.9" fill="#7c7c7c">aida01 2.4.H</text><path d="M390.45 8.900000000000002 L401.45 20.1 L390.45 31.3 L379.45 20.1 Z" fill="#ff0000"/></svg>
<svg class="a" style="left:483px;top:524px" width="476" height="137" viewBox="0 0 476 137"><path d="M155.5 19.15 V115.6 M197.5 19.15 V115.6 M239.5 19.15 V115.6 M282.5 19.15 V115.6 M324.5 19.15 V115.6 M367.5 19.15 V115.6" stroke="#545454" stroke-opacity=".125" stroke-width="1" fill="none"/><path d="M112 92.5 H391.45 M112 70.5 H391.45 M112 48.5 H391.45 M112 26.5 H391.45" stroke="#545454" stroke-opacity=".125" stroke-width="1" fill="none"/><rect x="112" y="19.15" width="279.45" height="96.44999999999999" fill="none" stroke="#808080" stroke-width="2"/><path d="M113.20 114.6 H390.55" stroke="#6262dc" stroke-width="1.9" fill="none"/><path d="M248.10 114.60 L248.35 28.40 L248.65 28.40 L249.20 112.60 L249.50 107.63 L249.40 114.60" stroke="#0c0cff" stroke-width="1.05" fill="rgba(40,40,255,.4)" stroke-linejoin="round"/><text x="108.4" y="119.30" text-anchor="end" font-family="'DejaVu Serif','Liberation Serif',serif" font-size="11.7" fill="#545454">0</text><text x="108.4" y="97.20" text-anchor="end" font-family="'DejaVu Serif','Liberation Serif',serif" font-size="11.7" fill="#545454">10000</text><text x="108.4" y="75.10" text-anchor="end" font-family="'DejaVu Serif','Liberation Serif',serif" font-size="11.7" fill="#545454">20000</text><text x="108.4" y="53.00" text-anchor="end" font-family="'DejaVu Serif','Liberation Serif',serif" font-size="11.7" fill="#545454">30000</text><text x="108.4" y="30.90" text-anchor="end" font-family="'DejaVu Serif','Liberation Serif',serif" font-size="11.7" fill="#545454">40000</text><text x="112.80" y="131.1" text-anchor="middle" font-family="'DejaVu Serif','Liberation Serif',serif" font-size="11.7" fill="#545454">0</text><text x="155.17" y="131.1" text-anchor="middle" font-family="'DejaVu Serif','Liberation Serif',serif" font-size="11.7" fill="#545454">10000</text><text x="197.53" y="131.1" text-anchor="middle" font-family="'DejaVu Serif','Liberation Serif',serif" font-size="11.7" fill="#545454">20000</text><text x="239.90" y="131.1" text-anchor="middle" font-family="'DejaVu Serif','Liberation Serif',serif" font-size="11.7" fill="#545454">30000</text><text x="282.27" y="131.1" text-anchor="middle" font-family="'DejaVu Serif','Liberation Serif',serif" font-size="11.7" fill="#545454">40000</text><text x="324.63" y="131.1" text-anchor="middle" font-family="'DejaVu Serif','Liberation Serif',serif" font-size="11.7" fill="#545454">50000</text><text x="367.00" y="131.1" text-anchor="middle" font-family="'DejaVu Serif','Liberation Serif',serif" font-size="11.7" fill="#545454">60000</text><rect x="284.05" y="27" width="103.10" height="16.5" fill="#fff" opacity=".8"/><rect x="286.55" y="30" width="14.5" height="10.5" fill="#fff" stroke="#ccc" stroke-width="1"/><rect x="288.05" y="31.5" width="11.5" height="7.5" fill="#0000ff"/><text x="383.15" y="38.8" text-anchor="end" font-family="'DejaVu Serif','Liberation Serif',serif" font-size="11.9" fill="#7c7c7c">aida01 2.5.H</text><path d="M390.45 8.900000000000002 L401.45 20.1 L390.45 31.3 L379.45 20.1 Z" fill="#ff0000"/></svg>
<svg class="a" style="left:959px;top:524px" width="476" height="137" viewBox="0 0 476 137"><path d="M155.5 19.15 V115.6 M197.5 19.15 V115.6 M239.5 19.15 V115.6 M282.5 19.15 V115.6 M324.5 19.15 V115.6 M367.5 19.15 V115.6" stroke="#545454" stroke-opacity=".125" stroke-width="1" fill="none"/><path d="M112 86.5 H391.45 M112 57.5 H391.45 M112 28.5 H391.45" stroke="#545454" stroke-opacity=".125" stroke-width="1" fill="none"/><rect x="112" y="19.15" width="279.45" height="96.44999999999999" fill="none" stroke="#808080" stroke-width="2"/><path d="M113.20 114.6 H390.55" stroke="#6262dc" stroke-width="1.9" fill="none"/><path d="M249.60 114.60 L249.00 101.50 L249.30 112.60 L249.85 28.40 L250.15 28.40 L250.40 114.60" stroke="#0c0cff" stroke-width="1.05" fill="rgba(40,40,255,.4)" stroke-linejoin="round"/><text x="108.4" y="119.30" text-anchor="end" font-family="'DejaVu Serif','Liberation Serif',serif" font-size="11.7" fill="#545454">0</text><text x="108.4" y="90.60" text-anchor="end" font-family="'DejaVu Serif','Liberation Serif',serif" font-size="11.7" fill="#545454">5000</text><text x="108.4" y="61.90" text-anchor="end" font-family="'DejaVu Serif','Liberation Serif',serif" font-size="11.7" fill="#545454">10000</text><text x="108.4" y="33.20" text-anchor="end" font-family="'DejaVu Serif','Liberation Serif',serif" font-size="11.7" fill="#545454">15000</text><text x="112.80" y="131.1" text-anchor="middle" font-family="'DejaVu Serif','Liberation Serif',serif" font-size="11.7" fill="#545454">0</text><text x="155.17" y="131.1" text-anchor="middle" font-family="'DejaVu Serif','Liberation Serif',serif" font-size="11.7" fill="#545454">10000</text><text x="197.53" y="131.1" text-anchor="middle" font-family="'DejaVu Serif','Liberation Serif',serif" font-size="11.7" fill="#545454">20000</text><text x="239.90" y="131.1" text-anchor="middle" font-family="'DejaVu Serif','Liberation Serif',serif" font-size="11.7" fill="#545454">30000</text><text x="282.27" y="131.1" text-anchor="middle" font-family="'DejaVu Serif','Liberation Serif',serif" font-size="11.7" fill="#545454">40000</text><text x="324.63" y="131.1" text-anchor="middle" font-family="'DejaVu Serif','Liberation Serif',serif" font-size="11.7" fill="#545454">50000</text><text x="367.00" y="131.1" text-anchor="middle" font-family="'DejaVu Serif','Liberation Serif',serif" font-size="11.7" fill="#545454">60000</text><rect x="284.05" y="27" width="103.10" height="16.5" fill="#fff" opacity=".8"/><rect x="286.55" y="30" width="14.5" height="10.5" fill="#fff" stroke="#ccc" stroke-width="1"/><rect x="288.05" y="31.5" width="11.5" height="7.5" fill="#0000ff"/><text x="383.15" y="38.8" text-anchor="end" font-family="'DejaVu Serif','Liberation Serif',serif" font-size="11.9" fill="#7c7c7c">aida01 2.6.H</text><path d="M390.45 8.900000000000002 L401.45 20.1 L390.45 31.3 L379.45 20.1 Z" fill="#ff0000"/></svg>
<svg class="a" style="left:1435px;top:524px" width="476" height="137" viewBox="0 0 476 137"><path d="M149.5 19.15 V115.6 M192.5 19.15 V115.6 M236.5 19.15 V115.6 M279.5 19.15 V115.6 M322.5 19.15 V115.6 M366.5 19.15 V115.6" stroke="#545454" stroke-opacity=".125" stroke-width="1" fill="none"/><path d="M105 90.5 H391.45 M105 67.5 H391.45 M105 43.5 H391.45" stroke="#545454" stroke-opacity=".125" stroke-width="1" fill="none"/><rect x="105" y="19.15" width="286.45" height="96.44999999999999" fill="none" stroke="#808080" stroke-width="2"/><path d="M106.20 114.6 H390.55" stroke="#6262dc" stroke-width="1.9" fill="none"/><path d="M245.60 114.60 L245.85 28.40 L246.15 28.40 L246.50 112.60 L246.80 72.46 L246.90 114.60" stroke="#0c0cff" stroke-width="1.05" fill="rgba(40,40,255,.4)" stroke-linejoin="round"/><text x="101.4" y="119.30" text-anchor="end" font-family="'DejaVu Serif','Liberation Serif',serif" font-size="11.7" fill="#545454">0</text><text x="101.4" y="95.50" text-anchor="end" font-family="'DejaVu Serif','Liberation Serif',serif" font-size="11.7" fill="#545454">2000</text><text x="101.4" y="71.70" text-anchor="end" font-family="'DejaVu Serif','Liberation Serif',serif" font-size="11.7" fill="#545454">4000</text><text x="101.4" y="47.90" text-anchor="end" font-family="'DejaVu Serif','Liberation Serif',serif" font-size="11.7" fill="#545454">6000</text><text x="105.80" y="131.1" text-anchor="middle" font-family="'DejaVu Serif','Liberation Serif',serif" font-size="11.7" fill="#545454">0</text><text x="149.23" y="131.1" text-anchor="middle" font-family="'DejaVu Serif','Liberation Serif',serif" font-size="11.7" fill="#545454">10000</text><text x="192.67" y="131.1" text-anchor="middle" font-family="'DejaVu Serif','Liberation Serif',serif" font-size="11.7" fill="#545454">20000</text><text x="236.10" y="131.1" text-anchor="middle" font-family="'DejaVu Serif','Liberation Serif',serif" font-size="11.7" fill="#545454">30000</text><text x="279.54" y="131.1" text-anchor="middle" font-family="'DejaVu Serif','Liberation Serif',serif" font-size="11.7" fill="#545454">40000</text><text x="322.97" y="131.1" text-anchor="middle" font-family="'DejaVu Serif','Liberation Serif',serif" font-size="11.7" fill="#545454">50000</text><text x="366.41" y="131.1" text-anchor="middle" font-family="'DejaVu Serif','Liberation Serif',serif" font-size="11.7" fill="#545454">60000</text><rect x="284.05" y="27" width="103.10" height="16.5" fill="#fff" opacity=".8"/><rect x="286.55" y="30" width="14.5" height="10.5" fill="#fff" stroke="#ccc" stroke-width="1"/><rect x="288.05" y="31.5" width="11.5" height="7.5" fill="#0000ff"/><text x="383.15" y="38.8" text-anchor="end" font-family="'DejaVu Serif','Liberation Serif',serif" font-size="11.9" fill="#7c7c7c">aida01 2.7.H</text><path d="M390.45 8.900000000000002 L401.45 20.1 L390.45 31.3 L379.45 20.1 Z" fill="#ff0000"/></svg>
<svg class="a" style="left:7px;top:660px" width="476" height="137" viewBox="0 0 476 137"><path d="M155.5 19.15 V115.6 M197.5 19.15 V115.6 M239.5 19.15 V115.6 M282.5 19.15 V115.6 M324.5 19.15 V115.6 M367.5 19.15 V115.6" stroke="#545454" stroke-opacity=".125" stroke-width="1" fill="none"/><path d="M112 83.5 H391.45 M112 52.5 H391.45 M112 21.5 H391.45" stroke="#545454" stroke-opacity=".125" stroke-width="1" fill="none"/><rect x="112" y="19.15" width="279.45" height="96.44999999999999" fill="none" stroke="#808080" stroke-width="2"/><path d="M113.20 114.6 H390.55" stroke="#6262dc" stroke-width="1.9" fill="none"/><path d="M249.10 114.60 L248.50 67.21 L248.80 112.60 L249.35 28.40 L249.65 28.40 L249.90 114.60" stroke="#0c0cff" stroke-width="1.05" fill="rgba(40,40,255,.4)" stroke-linejoin="round"/><text x="108.4" y="119.30" text-anchor="end" font-family="'DejaVu Serif','Liberation Serif',serif" font-size="11.7" fill="#545454">0</text><text x="108.4" y="88.20" text-anchor="end" font-family="'DejaVu Serif','Liberation Serif',serif" font-size="11.7" fill="#545454">10000</text><text x="108.4" y="57.10" text-anchor="end" font-family="'DejaVu Serif','Liberation Serif',serif" font-size="11.7" fill="#545454">20000</text><text x="108.4" y="26.00" text-anchor="end" font-family="'DejaVu Serif','Liberation Serif',serif" font-size="11.7" fill="#545454">30000</text><text x="112.80" y="131.1" text-anchor="middle" font-family="'DejaVu Serif','Liberation Serif',serif" font-size="11.7" fill="#545454">0</text><text x="155.17" y="131.1" text-anchor="middle" font-family="'DejaVu Serif','Liberation Serif',serif" font-size="11.7" fill="#545454">10000</text><text x="197.53" y="131.1" text-anchor="middle" font-family="'DejaVu Serif','Liberation Serif',serif" font-size="11.7" fill="#545454">20000</text><text x="239.90" y="131.1" text-anchor="middle" font-family="'DejaVu Serif','Liberation Serif',serif" font-size="11.7" fill="#545454">30000</text><text x="282.27" y="131.1" text-anchor="middle" font-family="'DejaVu Serif','Liberation Serif',serif" font-size="11.7" fill="#545454">40000</text><text x="324.63" y="131.1" text-anchor="middle" font-family="'DejaVu Serif','Liberation Serif',serif" font-size="11.7" fill="#545454">50000</text><text x="367.00" y="131.1" text-anchor="middle" font-family="'DejaVu Serif','Liberation Serif',serif" font-size="11.7" fill="#545454">60000</text><rect x="284.05" y="27" width="103.10" height="16.5" fill="#fff" opacity=".8"/><rect x="286.55" y="30" width="14.5" height="10.5" fill="#fff" stroke="#ccc" stroke-width="1"/><rect x="288.05" y="31.5" width="11.5" height="7.5" fill="#0000ff"/><text x="383.15" y="38.8" text-anchor="end" font-family="'DejaVu Serif','Liberation Serif',serif" font-size="11.9" fill="#7c7c7c">aida01 2.8.H</text><path d="M390.45 8.900000000000002 L401.45 20.1 L390.45 31.3 L379.45 20.1 Z" fill="#ff0000"/></svg>
<svg class="a" style="left:483px;top:660px" width="476" height="137" viewBox="0 0 476 137"><path d="M155.5 19.15 V115.6 M197.5 19.15 V115.6 M239.5 19.15 V115.6 M282.5 19.15 V115.6 M324.5 19.15 V115.6 M367.5 19.15 V115.6" stroke="#545454" stroke-opacity=".125" stroke-width="1" fill="none"/><path d="M112 92.5 H391.45 M112 69.5 H391.45 M112 47.5 H391.45 M112 25.5 H391.45" stroke="#545454" stroke-opacity=".125" stroke-width="1" fill="none"/><rect x="112" y="19.15" width="279.45" height="96.44999999999999" fill="none" stroke="#808080" stroke-width="2"/><path d="M113.20 114.6 H390.55" stroke="#6262dc" stroke-width="1.9" fill="none"/><path d="M249.60 114.60 L249.10 88.27 L249.40 112.60 L249.85 28.40 L250.15 28.40 L250.40 114.60" stroke="#0c0cff" stroke-width="1.05" fill="rgba(40,40,255,.4)" stroke-linejoin="round"/><text x="108.4" y="119.30" text-anchor="end" font-family="'DejaVu Serif','Liberation Serif',serif" font-size="11.7" fill="#545454">0</text><text x="108.4" y="96.90" text-anchor="end" font-family="'DejaVu Serif','Liberation Serif',serif" font-size="11.7" fill="#545454">5000</text><text x="108.4" y="74.50" text-anchor="end" font-family="'DejaVu Serif','Liberation Serif',serif" font-size="11.7" fill="#545454">10000</text><text x="108.4" y="52.10" text-anchor="end" font-family="'DejaVu Serif','Liberation Serif',serif" font-size="11.7" fill="#545454">15000</text><text x="108.4" y="29.70" text-anchor="end" font-family="'DejaVu Serif','Liberation Serif',serif" font-size="11.7" fill="#545454">20000</text><text x="112.80" y="131.1" text-anchor="middle" font-family="'DejaVu Serif','Liberation Serif',serif" font-size="11.7" fill="#545454">0</text><text x="155.17" y="131.1" text-anchor="middle" font-family="'DejaVu Serif','Liberation Serif',serif" font-size="11.7" fill="#545454">10000</text><text x="197.53" y="131.1" text-anchor="middle" font-family="'DejaVu Serif','Liberation Serif',serif" font-size="11.7" fill="#545454">20000</text><text x="239.90" y="131.1" text-anchor="middle" font-family="'DejaVu Serif','Liberation Serif',serif" font-size="11.7" fill="#545454">30000</text><text x="282.27" y="131.1" text-anchor="middle" font-family="'DejaVu Serif','Liberation Serif',serif" font-size="11.7" fill="#545454">40000</text><text x="324.63" y="131.1" text-anchor="middle" font-family="'DejaVu Serif','Liberation Serif',serif" font-size="11.7" fill="#545454">50000</text><text x="367.00" y="131.1" text-anchor="middle" font-family="'DejaVu Serif','Liberation Serif',serif" font-size="11.7" fill="#545454">60000</text><rect x="284.05" y="27" width="103.10" height="16.5" fill="#fff" opacity=".8"/><rect x="286.55" y="30" width="14.5" height="10.5" fill="#fff" stroke="#ccc" stroke-width="1"/><rect x="288.05" y="31.5" width="11.5" height="7.5" fill="#0000ff"/><text x="383.15" y="38.8" text-anchor="end" font-family="'DejaVu Serif','Liberation Serif',serif" font-size="11.9" fill="#7c7c7c">aida01 2.9.H</text><path d="M390.45 8.900000000000002 L401.45 20.1 L390.45 31.3 L379.45 20.1 Z" fill="#ff0000"/></svg>
<svg class="a" style="left:959px;top:660px" width="476" height="137" viewBox="0 0 476 137"><path d="M155.5 19.15 V115.6 M197.5 19.15 V115.6 M239.5 19.15 V115.6 M282.5 19.15 V115.6 M324.5 19.15 V115.6 M367.5 19.15 V115.6" stroke="#545454" stroke-opacity=".125" stroke-width="1" fill="none"/><path d="M112 90.5 H391.45 M112 67.5 H391.45 M112 43.5 H391.45 M112 19.5 H391.45" stroke="#545454" stroke-opacity=".125" stroke-width="1" fill="none"/><rect x="112" y="19.15" width="279.45" height="96.44999999999999" fill="none" stroke="#808080" stroke-width="2"/><path d="M113.20 114.6 H390.55" stroke="#6262dc" stroke-width="1.9" fill="none"/><path d="M249.60 114.60 L249.00 107.58 L249.30 112.60 L249.85 28.40 L250.15 28.40 L250.40 114.60" stroke="#0c0cff" stroke-width="1.05" fill="rgba(40,40,255,.4)" stroke-linejoin="round"/><text x="108.4" y="119.30" text-anchor="end" font-family="'DejaVu Serif','Liberation Serif',serif" font-size="11.7" fill="#545454">0</text><text x="108.4" y="95.58" text-anchor="end" font-family="'DejaVu Serif','Liberation Serif',serif" font-size="11.7" fill="#545454">10000</text><text x="108.4" y="71.86" text-anchor="end" font-family="'DejaVu Serif','Liberation Serif',serif" font-size="11.7" fill="#545454">20000</text><text x="108.4" y="48.14" text-anchor="end" font-family="'DejaVu Serif','Liberation Serif',serif" font-size="11.7" fill="#545454">30000</text><text x="108.4" y="24.42" text-anchor="end" font-family="'DejaVu Serif','Liberation Serif',serif" font-size="11.7" fill="#545454">40000</text><text x="112.80" y="131.1" text-anchor="middle" font-family="'DejaVu Serif','Liberation Serif',serif" font-size="11.7" fill="#545454">0</text><text x="155.17" y="131.1" text-anchor="middle" font-family="'DejaVu Serif','Liberation Serif',serif" font-size="11.7" fill="#545454">10000</text><text x="197.53" y="131.1" text-anchor="middle" font-family="'DejaVu Serif','Liberation Serif',serif" font-size="11.7" fill="#545454">20000</text><text x="239.90" y="131.1" text-anchor="middle" font-family="'DejaVu Serif','Liberation Serif',serif" font-size="11.7" fill="#545454">30000</text><text x="282.27" y="131.1" text-anchor="middle" font-family="'DejaVu Serif','Liberation Serif',serif" font-size="11.7" fill="#545454">40000</text><text x="324.63" y="131.1" text-anchor="middle" font-family="'DejaVu Serif','Liberation Serif',serif" font-size="11.7" fill="#545454">50000</text><text x="367.00" y="131.1" text-anchor="middle" font-family="'DejaVu Serif','Liberation Serif',serif" font-size="11.7" fill="#545454">60000</text><rect x="276.61" y="27" width="110.54" height="16.5" fill="#fff" opacity=".8"/><rect x="279.11" y="30" width="14.5" height="10.5" fill="#fff" stroke="#ccc" stroke-width="1"/><rect x="280.61" y="31.5" width="11.5" height="7.5" fill="#0000ff"/><text x="383.15" y="38.8" text-anchor="end" font-family="'DejaVu Serif','Liberation Serif',serif" font-size="11.9" fill="#7c7c7c">aida01 2.10.H</text><path d="M390.45 8.900000000000002 L401.45 20.1 L390.45 31.3 L379.45 20.1 Z" fill="#ff0000"/></svg>
<svg class="a" style="left:1435px;top:660px" width="476" height="137" viewBox="0 0 476 137"><path d="M155.5 19.15 V115.6 M197.5 19.15 V115.6 M239.5 19.15 V115.6 M282.5 19.15 V115.6 M324.5 19.15 V115.6 M367.5 19.15 V115.6" stroke="#545454" stroke-opacity=".125" stroke-width="1" fill="none"/><path d="M112 89.5 H391.45 M112 64.5 H391.45 M112 39.5 H391.45" stroke="#545454" stroke-opacity=".125" stroke-width="1" fill="none"/><rect x="112" y="19.15" width="279.45" height="96.44999999999999" fill="none" stroke="#808080" stroke-width="2"/><path d="M113.20 114.6 H390.55" stroke="#6262dc" stroke-width="1.9" fill="none"/><path d="M248.60 114.60 L248.20 101.73 L248.50 112.60 L248.85 28.40 L249.15 28.40 L249.40 114.60" stroke="#0c0cff" stroke-width="1.05" fill="rgba(40,40,255,.4)" stroke-linejoin="round"/><text x="108.4" y="119.30" text-anchor="end" font-family="'DejaVu Serif','Liberation Serif',serif" font-size="11.7" fill="#545454">0</text><text x="108.4" y="94.35" text-anchor="end" font-family="'DejaVu Serif','Liberation Serif',serif" font-size="11.7" fill="#545454">5000</text><text x="108.4" y="69.40" text-anchor="end" font-family="'DejaVu Serif','Liberation Serif',serif" font-size="11.7" fill="#545454">10000</text><text x="108.4" y="44.45" text-anchor="end" font-family="'DejaVu Serif','Liberation Serif',serif" font-size="11.7" fill="#545454">15000</text><text x="112.80" y="131.1" text-anchor="middle" font-family="'DejaVu Serif','Liberation Serif',serif" font-size="11.7" fill="#545454">0</text><text x="155.17" y="131.1" text-anchor="middle" font-family="'DejaVu Serif','Liberation Serif',serif" font-size="11.7" fill="#545454">10000</text><text x="197.53" y="131.1" text-anchor="middle" font-family="'DejaVu Serif','Liberation Serif',serif" font-size="11.7" fill="#545454">20000</text><text x="239.90" y="131.1" text-anchor="middle" font-family="'DejaVu Serif','Liberation Serif',serif" font-size="11.7" fill="#545454">30000</text><text x="282.27" y="131.1" text-anchor="middle" font-family="'DejaVu Serif','Liberation Serif',serif" font-size="11.7" fill="#545454">40000</text><text x="324.63" y="131.1" text-anchor="middle" font-family="'DejaVu Serif','Liberation Serif',serif" font-size="11.7" fill="#545454">50000</text><text x="367.00" y="131.1" text-anchor="middle" font-family="'DejaVu Serif','Liberation Serif',serif" font-size="11.7" fill="#545454">60000</text><rect x="276.61" y="27" width="110.54" height="16.5" fill="#fff" opacity=".8"/><rect x="279.11" y="30" width="14.5" height="10.5" fill="#fff" stroke="#ccc" stroke-width="1"/><rect x="280.61" y="31.5" width="11.5" height="7.5" fill="#0000ff"/><text x="383.15" y="38.8" text-anchor="end" font-family="'DejaVu Serif','Liberation Serif',serif" font-size="11.9" fill="#7c7c7c">aida01 2.11.H</text><path d="M390.45 8.900000000000002 L401.45 20.1 L390.45 31.3 L379.45 20.1 Z" fill="#ff0000"/></svg>
<svg class="a" style="left:7px;top:796px" width="476" height="137" viewBox="0 0 476 137"><path d="M155.5 19.15 V116.6 M197.5 19.15 V116.6 M239.5 19.15 V116.6 M282.5 19.15 V116.6 M324.5 19.15 V116.6 M367.5 19.15 V116.6" stroke="#545454" stroke-opacity=".125" stroke-width="1" fill="none"/><path d="M112 81.5 H391.45 M112 47.5 H391.45" stroke="#545454" stroke-opacity=".125" stroke-width="1" fill="none"/><rect x="112" y="19.15" width="279.45" height="97.44999999999999" fill="none" stroke="#808080" stroke-width="2"/><path d="M113.20 115.6 H390.55" stroke="#6262dc" stroke-width="1.9" fill="none"/><path d="M248.85 115.60 L249.10 28.40 L249.40 28.40 L249.85 113.60 L250.15 104.89 L250.15 115.60" stroke="#0c0cff" stroke-width="1.05" fill="rgba(40,40,255,.4)" stroke-linejoin="round"/><text x="108.4" y="119.70" text-anchor="end" font-family="'DejaVu Serif','Liberation Serif',serif" font-size="11.7" fill="#545454">0</text><text x="108.4" y="85.30" text-anchor="end" font-family="'DejaVu Serif','Liberation Serif',serif" font-size="11.7" fill="#545454">10000</text><text x="108.4" y="50.90" text-anchor="end" font-family="'DejaVu Serif','Liberation Serif',serif" font-size="11.7" fill="#545454">20000</text><text x="112.80" y="132.1" text-anchor="middle" font-family="'DejaVu Serif','Liberation Serif',serif" font-size="11.7" fill="#545454">0</text><text x="155.17" y="132.1" text-anchor="middle" font-family="'DejaVu Serif','Liberation Serif',serif" font-size="11.7" fill="#545454">10000</text><text x="197.53" y="132.1" text-anchor="middle" font-family="'DejaVu Serif','Liberation Serif',serif" font-size="11.7" fill="#545454">20000</text><text x="239.90" y="132.1" text-anchor="middle" font-family="'DejaVu Serif','Liberation Serif',serif" font-size="11.7" fill="#545454">30000</text><text x="282.27" y="132.1" text-anchor="middle" font-family="'DejaVu Serif','Liberation Serif',serif" font-size="11.7" fill="#545454">40000</text><text x="324.63" y="132.1" text-anchor="middle" font-family="'DejaVu Serif','Liberation Serif',serif" font-size="11.7" fill="#545454">50000</text><text x="367.00" y="132.1" text-anchor="middle" font-family="'DejaVu Serif','Liberation Serif',serif" font-size="11.7" fill="#545454">60000</text><rect x="276.61" y="27" width="110.54" height="16.5" fill="#fff" opacity=".8"/><rect x="279.11" y="30" width="14.5" height="10.5" fill="#fff" stroke="#ccc" stroke-width="1"/><rect x="280.61" y="31.5" width="11.5" height="7.5" fill="#0000ff"/><text x="383.15" y="38.8" text-anchor="end" font-family="'DejaVu Serif','Liberation Serif',serif" font-size="11.9" fill="#7c7c7c">aida01 2.12.H</text><path d="M390.45 8.900000000000002 L401.45 20.1 L390.45 31.3 L379.45 20.1 Z" fill="#ff0000"/></svg>
<svg class="a" style="left:483px;top:796px" width="476" height="137" viewBox="0 0 476 137"><path d="M155.5 19.15 V116.6 M197.5 19.15 V116.6 M239.5 19.15 V116.6 M282.5 19.15 V116.6 M324.5 19.15 V116.6 M367.5 19.15 V116.6" stroke="#545454" stroke-opacity=".125" stroke-width="1" fill="none"/><path d="M112 91.5 H391.45 M112 67.5 H391.45 M112 43.5 H391.45" stroke="#545454" stroke-opacity=".125" stroke-width="1" fill="none"/><rect x="112" y="19.15" width="279.45" height="97.44999999999999" fill="none" stroke="#808080" stroke-width="2"/><path d="M113.20 115.6 H390.55" stroke="#6262dc" stroke-width="1.9" fill="none"/><path d="M248.60 115.60 L248.85 28.40 L249.15 28.40 L249.70 113.60 L250.00 101.22 L249.90 115.60" stroke="#0c0cff" stroke-width="1.05" fill="rgba(40,40,255,.4)" stroke-linejoin="round"/><text x="108.4" y="119.70" text-anchor="end" font-family="'DejaVu Serif','Liberation Serif',serif" font-size="11.7" fill="#545454">0</text><text x="108.4" y="95.40" text-anchor="end" font-family="'DejaVu Serif','Liberation Serif',serif" font-size="11.7" fill="#545454">2500</text><text x="108.4" y="71.10" text-anchor="end" font-family="'DejaVu Serif','Liberation Serif',serif" font-size="11.7" fill="#545454">5000</text><text x="108.4" y="46.80" text-anchor="end" font-family="'DejaVu Serif','Liberation Serif',serif" font-size="11.7" fill="#545454">7500</text><text x="112.80" y="132.1" text-anchor="middle" font-family="'DejaVu Serif','Liberation Serif',serif" font-size="11.7" fill="#545454">0</text><text x="155.17" y="132.1" text-anchor="middle" font-family="'DejaVu Serif','Liberation Serif',serif" font-size="11.7" fill="#545454">10000</text><text x="197.53" y="132.1" text-anchor="middle" font-family="'DejaVu Serif','Liberation Serif',serif" font-size="11.7" fill="#545454">20000</text><text x="239.90" y="132.1" text-anchor="middle" font-family="'DejaVu Serif','Liberation Serif',serif" font-size="11.7" fill="#545454">30000</text><text x="282.27" y="132.1" text-anchor="middle" font-family="'DejaVu Serif','Liberation Serif',serif" font-size="11.7" fill="#545454">40000</text><text x="324.63" y="132.1" text-anchor="middle" font-family="'DejaVu Serif','Liberation Serif',serif" font-size="11.7" fill="#545454">50000</text><text x="367.00" y="132.1" text-anchor="middle" font-family="'DejaVu Serif','Liberation Serif',serif" font-size="11.7" fill="#545454">60000</text><rect x="276.61" y="27" width="110.54" height="16.5" fill="#fff" opacity=".8"/><rect x="279.11" y="30" width="14.5" height="10.5" fill="#fff" stroke="#ccc" stroke-width="1"/><rect x="280.61" y="31.5" width="11.5" height="7.5" fill="#0000ff"/><text x="383.15" y="38.8" text-anchor="end" font-family="'DejaVu Serif','Liberation Serif',serif" font-size="11.9" fill="#7c7c7c">aida01 2.13.H</text><path d="M390.45 8.900000000000002 L401.45 20.1 L390.45 31.3 L379.45 20.1 Z" fill="#ff0000"/></svg>
<svg class="a" style="left:959px;top:796px" width="476" height="137" viewBox="0 0 476 137"><path d="M155.5 19.15 V116.6 M197.5 19.15 V116.6 M239.5 19.15 V116.6 M282.5 19.15 V116.6 M324.5 19.15 V116.6 M367.5 19.15 V116.6" stroke="#545454" stroke-opacity=".125" stroke-width="1" fill="none"/><path d="M112 94.5 H391.45 M112 73.5 H391.45 M112 52.5 H391.45 M112 30.5 H391.45" stroke="#545454" stroke-opacity=".125" stroke-width="1" fill="none"/><rect x="112" y="19.15" width="279.45" height="97.44999999999999" fill="none" stroke="#808080" stroke-width="2"/><path d="M113.20 115.6 H390.55" stroke="#6262dc" stroke-width="1.9" fill="none"/><path d="M248.60 115.60 L248.00 104.91 L248.30 113.60 L248.85 28.40 L249.15 28.40 L249.40 115.60" stroke="#0c0cff" stroke-width="1.05" fill="rgba(40,40,255,.4)" stroke-linejoin="round"/><text x="108.4" y="119.70" text-anchor="end" font-family="'DejaVu Serif','Liberation Serif',serif" font-size="11.7" fill="#545454">0</text><text x="108.4" y="98.45" text-anchor="end" font-family="'DejaVu Serif','Liberation Serif',serif" font-size="11.7" fill="#545454">10000</text><text x="108.4" y="77.20" text-anchor="end" font-family="'DejaVu Serif','Liberation Serif',serif" font-size="11.7" fill="#545454">20000</text><text x="108.4" y="55.95" text-anchor="end" font-family="'DejaVu Serif','Liberation Serif',serif" font-size="11.7" fill="#545454">30000</text><text x="108.4" y="34.70" text-anchor="end" font-family="'DejaVu Serif','Liberation Serif',serif" font-size="11.7" fill="#545454">40000</text><text x="112.80" y="132.1" text-anchor="middle" font-family="'DejaVu Serif','Liberation Serif',serif" font-size="11.7" fill="#545454">0</text><text x="155.17" y="132.1" text-anchor="middle" font-family="'DejaVu Serif','Liberation Serif',serif" font-size="11.7" fill="#545454">10000</text><text x="197.53" y="132.1" text-anchor="middle" font-family="'DejaVu Serif','Liberation Serif',serif" font-size="11.7" fill="#545454">20000</text><text x="239.90" y="132.1" text-anchor="middle" font-family="'DejaVu Serif','Liberation Serif',serif" font-size="11.7" fill="#545454">30000</text><text x="282.27" y="132.1" text-anchor="middle" font-family="'DejaVu Serif','Liberation Serif',serif" font-size="11.7" fill="#545454">40000</text><text x="324.63" y="132.1" text-anchor="middle" font-family="'DejaVu Serif','Liberation Serif',serif" font-size="11.7" fill="#545454">50000</text><text x="367.00" y="132.1" text-anchor="middle" font-family="'DejaVu Serif','Liberation Serif',serif" font-size="11.7" fill="#545454">60000</text><rect x="276.61" y="27" width="110.54" height="16.5" fill="#fff" opacity=".8"/><rect x="279.11" y="30" width="14.5" height="10.5" fill="#fff" stroke="#ccc" stroke-width="1"/><rect x="280.61" y="31.5" width="11.5" height="7.5" fill="#0000ff"/><text x="383.15" y="38.8" text-anchor="end" font-family="'DejaVu Serif','Liberation Serif',serif" font-size="11.9" fill="#7c7c7c">aida01 2.14.H</text><path d="M390.45 8.900000000000002 L401.45 20.1 L390.45 31.3 L379.45 20.1 Z" fill="#ff0000"/></svg>
<svg class="a" style="left:1435px;top:796px" width="476" height="137" viewBox="0 0 476 137"><path d="M155.5 19.15 V116.6 M197.5 19.15 V116.6 M239.5 19.15 V116.6 M282.5 19.15 V116.6 M324.5 19.15 V116.6 M367.5 19.15 V116.6" stroke="#000" stroke-opacity=".2" stroke-width="1" fill="none"/><path d="M112 90.5 H391.45 M112 64.5 H391.45 M112 38.5 H391.45" stroke="#000" stroke-opacity=".2" stroke-width="1" fill="none"/><rect x="112" y="19.15" width="279.45" height="97.44999999999999" fill="none" stroke="#000" stroke-width="2"/><path d="M113.20 115.6 H390.55" stroke="#6262dc" stroke-width="1.9" fill="none"/><path d="M248.60 115.60 L248.20 108.95 L248.50 113.60 L248.85 28.40 L249.15 28.40 L249.50 113.60 L249.80 110.24 L249.90 115.60" stroke="#0c0cff" stroke-width="1.05" fill="rgba(40,40,255,.4)" stroke-linejoin="round"/><text x="108.4" y="119.70" text-anchor="end" font-family="'DejaVu Serif','Liberation Serif',serif" font-size="11.7" fill="#545454">0</text><text x="108.4" y="93.96" text-anchor="end" font-family="'DejaVu Serif','Liberation Serif',serif" font-size="11.7" fill="#545454">10000</text><text x="108.4" y="68.22" text-anchor="end" font-family="'DejaVu Serif','Liberation Serif',serif" font-size="11.7" fill="#545454">20000</text><text x="108.4" y="42.48" text-anchor="end" font-family="'DejaVu Serif','Liberation Serif',serif" font-size="11.7" fill="#545454">30000</text><text x="112.80" y="132.1" text-anchor="middle" font-family="'DejaVu Serif','Liberation Serif',serif" font-size="11.7" fill="#545454">0</text><text x="155.17" y="132.1" text-anchor="middle" font-family="'DejaVu Serif','Liberation Serif',serif" font-size="11.7" fill="#545454">10000</text><text x="197.53" y="132.1" text-anchor="middle" font-family="'DejaVu Serif','Liberation Serif',serif" font-size="11.7" fill="#545454">20000</text><text x="239.90" y="132.1" text-anchor="middle" font-family="'DejaVu Serif','Liberation Serif',serif" font-size="11.7" fill="#545454">30000</text><text x="282.27" y="132.1" text-anchor="middle" font-family="'DejaVu Serif','Liberation Serif',serif" font-size="11.7" fill="#545454">40000</text><text x="324.63" y="132.1" text-anchor="middle" font-family="'DejaVu Serif','Liberation Serif',serif" font-size="11.7" fill="#545454">50000</text><text x="367.00" y="132.1" text-anchor="middle" font-family="'DejaVu Serif','Liberation Serif',serif" font-size="11.7" fill="#545454">60000</text><rect x="276.61" y="27" width="110.54" height="16.5" fill="#fff" opacity=".8"/><rect x="279.11" y="30" width="14.5" height="10.5" fill="#fff" stroke="#ccc" stroke-width="1"/><rect x="280.61" y="31.5" width="11.5" height="7.5" fill="#0000ff"/><text x="383.15" y="38.8" text-anchor="end" font-family="'DejaVu Serif','Liberation Serif',serif" font-size="11.9" fill="#000">aida01 2.15.H</text><path d="M390.45 8.900000000000002 L401.45 20.1 L390.45 31.3 L379.45 20.1 Z" fill="#00ff00"/></svg>
</div>
</body></html>
